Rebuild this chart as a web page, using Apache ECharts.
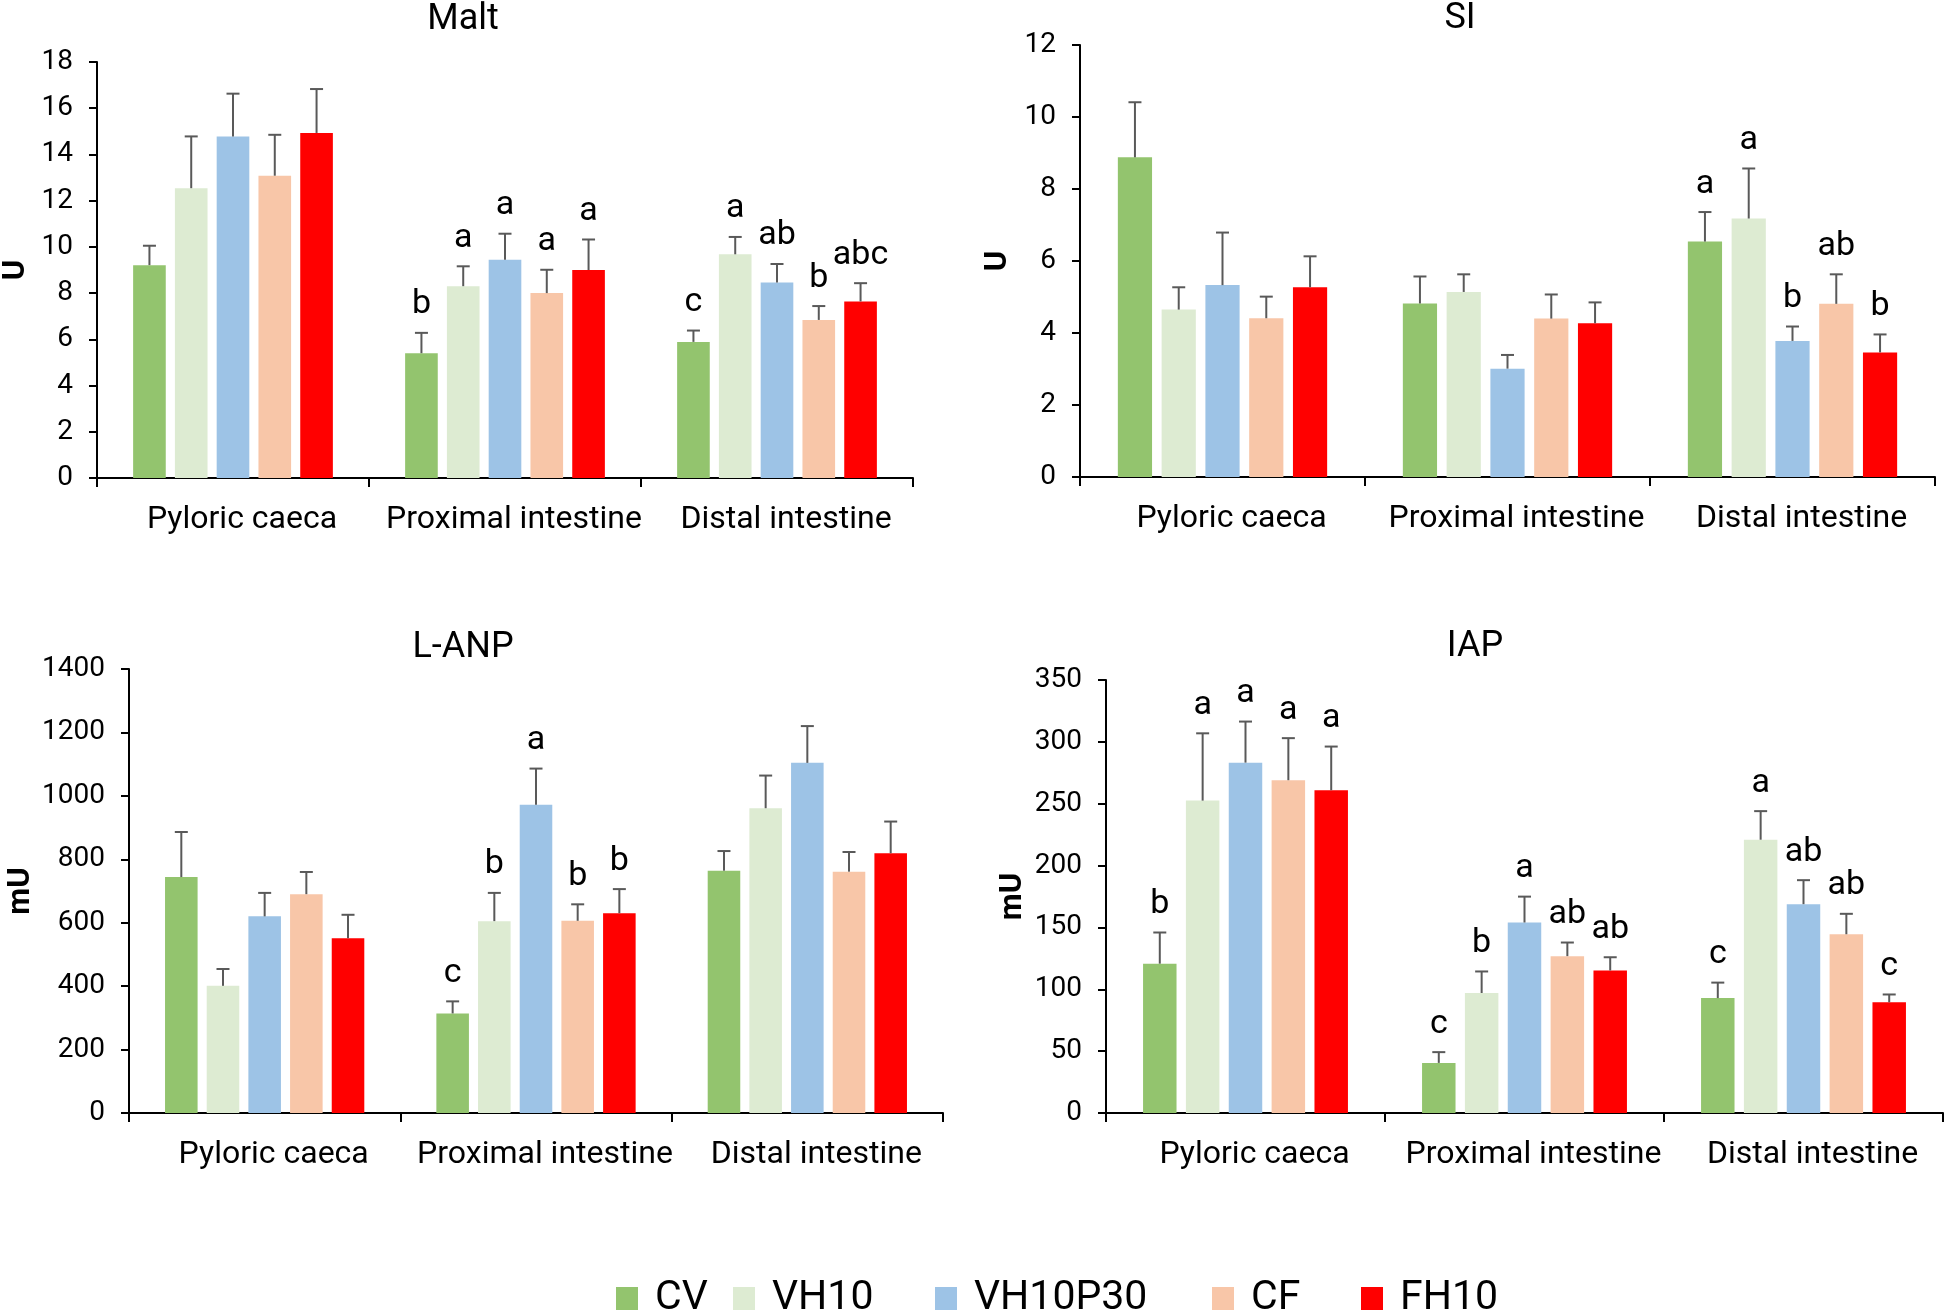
<!DOCTYPE html>
<html><head><meta charset="utf-8">
<script src="https://cdn.jsdelivr.net/npm/echarts@6/dist/echarts.min.js"></script>
<style>html,body{margin:0;padding:0;background:#fff}#c{width:1947px;height:1312px}</style>
</head><body><div id="c"></div><script>
// ---------- data ----------
const categories = ['Pyloric caeca', 'Proximal intestine', 'Distal intestine'];
const groups = ['CV', 'VH10', 'VH10P30', 'CF', 'FH10'];

// Malt (U)
const maltMean = [[9.21, 5.40, 5.89], [12.54, 8.30, 9.68], [14.78, 9.44, 8.46], [13.08, 8.00, 6.84], [14.93, 9.00, 7.64]];
const maltErr  = [[0.84, 0.88, 0.49], [2.24, 0.86, 0.75], [1.85, 1.13, 0.80], [1.77, 1.01, 0.60], [1.90, 1.32, 0.79]];
const maltLetters = [['', 'b', 'c'], ['', 'a', 'a'], ['', 'a', 'ab'], ['', 'a', 'b'], ['', 'a', 'abc']];

// SI (U)
const siMean = [[8.88, 4.82, 6.54], [4.65, 5.14, 7.18], [5.33, 3.01, 3.78], [4.41, 4.40, 4.81], [5.27, 4.27, 3.46]];
const siErr  = [[1.53, 0.75, 0.82], [0.62, 0.49, 1.39], [1.46, 0.38, 0.40], [0.60, 0.67, 0.82], [0.86, 0.58, 0.50]];
const siLetters = [['', '', 'a'], ['', '', 'a'], ['', '', 'b'], ['', '', 'ab'], ['', '', 'b']];

// L-ANP (mU)
const lanpMean = [[744, 314, 764], [401, 605, 961], [620, 972, 1104], [690, 606, 761], [551, 630, 819]];
const lanpErr  = [[142, 38, 62], [53, 89, 103], [74, 114, 116], [70, 52, 62], [74, 76, 100]];
const lanpLetters = [['', 'c', ''], ['', 'b', ''], ['', 'a', ''], ['', 'b', ''], ['', 'b', '']];

// IAP (mU)
const iapMean = [[120.7, 40.5, 92.9], [252.5, 97.0, 220.9], [283.2, 154.0, 168.8], [269.0, 126.8, 144.5], [260.9, 115.2, 89.5]];
const iapErr  = [[25.2, 8.7, 12.5], [54.4, 17.4, 23.1], [33.2, 20.9, 19.4], [34.0, 11.0, 16.5], [35.3, 10.7, 6.3]];
const iapLetters = [['b', 'c', 'c'], ['a', 'b', 'a'], ['a', 'a', 'ab'], ['a', 'ab', 'ab'], ['a', 'ab', 'c']];

const panelTitles = ['Malt', 'SI', 'L-ANP', 'IAP'];
const unitNames = ['U', 'U', 'mU', 'mU'];
const yMax = [18, 12, 1400, 350];
const yStep = [2, 2, 200, 50];

// ---------- style / layout ----------
const colors = ['#93C46E', '#DDEBD2', '#9DC3E6', '#F8C6A8', '#FF0000'];
const FONT = 'Roboto';
const BAR_FRAC = 0.12, GAP_FRAC = 0.28;
const panels = [
  { mean: maltMean, err: maltErr, letters: maltLetters, grid: { left: 96, top: 62, width: 817, height: 416 }, nameGap: 65, title: [458, -3] },
  { mean: siMean, err: siErr, letters: siLetters, grid: { left: 1080, top: 45, width: 855, height: 432 }, nameGap: 66, title: [1455, -4] },
  { mean: lanpMean, err: lanpErr, letters: lanpLetters, grid: { left: 129, top: 669, width: 814, height: 444 }, nameGap: 92, title: [458, 625] },
  { mean: iapMean, err: iapErr, letters: iapLetters, grid: { left: 1106, top: 680, width: 837, height: 433 }, nameGap: 77, title: [1470, 624] }
];

const grid = [], xAxis = [], yAxis = [], series = [], title = [];
panels.forEach((p, pi) => {
  grid.push(Object.assign({ containLabel: false }, p.grid));
  title.push({ text: panelTitles[pi], left: p.title[0], top: p.title[1], textAlign: 'center',
    textStyle: { fontFamily: FONT, fontSize: 36, fontWeight: 'normal', color: '#000' } });
  xAxis.push({
    type: 'category', gridIndex: pi, data: categories,
    axisLine: { lineStyle: { color: '#000', width: 2 } },
    axisTick: { show: true, length: 9, lineStyle: { color: '#000', width: 2 } },
    axisLabel: { interval: 0, hideOverlap: false, fontFamily: FONT, fontSize: 32, color: '#000', margin: 26, padding: [0, 0, 0, 18] },
    splitLine: { show: false }
  });
  yAxis.push({
    type: 'value', gridIndex: pi, min: 0, max: yMax[pi], interval: yStep[pi],
    name: unitNames[pi], nameLocation: 'middle', nameRotate: 90, nameGap: p.nameGap,
    nameTextStyle: { fontFamily: FONT, fontSize: 31, fontWeight: 'bold', color: '#000' },
    axisLine: { show: true, lineStyle: { color: '#000', width: 2 } },
    axisTick: { show: true, length: 8, lineStyle: { color: '#000', width: 2 } },
    axisLabel: { fontFamily: FONT, fontSize: 28, color: '#000', margin: 24, formatter: v => String(v) },
    splitLine: { show: false }
  });
  groups.forEach((g, gi) => {
    series.push({
      type: 'bar', name: g, xAxisIndex: pi, yAxisIndex: pi,
      data: p.mean[gi], barWidth: (BAR_FRAC * 100) + '%', barGap: (GAP_FRAC * 100) + '%',
      itemStyle: { color: colors[gi] }
    });
  });
  groups.forEach((g, gi) => {
    const data = p.mean[gi].map((m, ci) => [ci, m, m + p.err[gi][ci]]);
    series.push({
      type: 'custom', name: 'err-' + pi + '-' + gi, xAxisIndex: pi, yAxisIndex: pi, z: 5, clip: false,
      data: data,
      renderItem: function (params, api) {
        const ci = api.value(0);
        const band = api.size([1, 0])[0];
        const bw = band * BAR_FRAC, pitch = bw * (1 + GAP_FRAC);
        const off = (gi - 2) * pitch;
        const b = api.coord([ci, api.value(1)]);
        const t = api.coord([ci, api.value(2)]);
        const x = b[0] + off;
        const ls = { stroke: '#595959', lineWidth: 2 };
        const children = [
          { type: 'line', shape: { x1: x, y1: b[1], x2: x, y2: t[1] }, style: ls },
          { type: 'line', shape: { x1: x - 6.5, y1: t[1], x2: x + 6.5, y2: t[1] }, style: ls }
        ];
        const letter = p.letters[gi][params.dataIndex];
        if (letter) {
          children.push({ type: 'text', style: { text: letter, x: x, y: t[1] - 11, align: 'center', verticalAlign: 'bottom',
            fontFamily: FONT, fontSize: 34, fill: '#000' } });
        }
        return { type: 'group', children: children };
      }
    });
  });
});

const legendLeft = [611, 728, 930, 1207, 1356];
const legend = groups.map((g, gi) => ({
  data: [g], left: legendLeft[gi], top: 1273, icon: 'rect', itemWidth: 22, itemHeight: 23,
  textStyle: { fontFamily: FONT, fontSize: 41, color: '#000', padding: [0, 0, 0, 12] }
}));

const chart = echarts.init(document.getElementById('c'), null, { renderer: 'canvas' });
chart.setOption({ animation: false, backgroundColor: '#fff', title, legend, grid, xAxis, yAxis, series });
</script></body></html>
